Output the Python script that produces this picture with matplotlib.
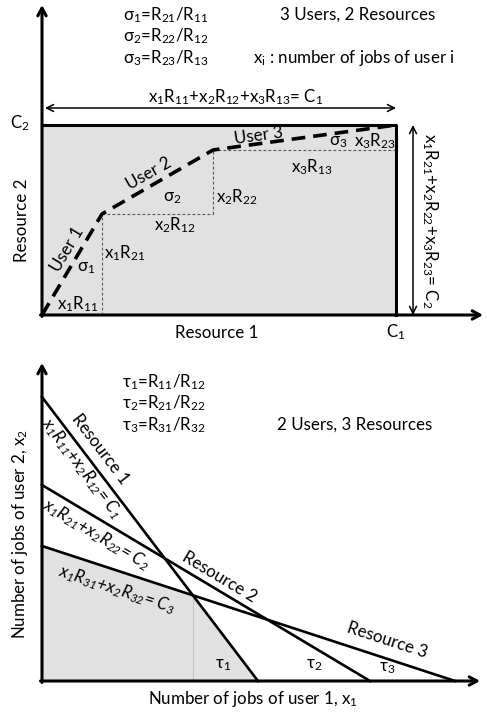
import matplotlib
matplotlib.use("Agg")
import matplotlib.pyplot as plt
import numpy as np

plt.rcParams['font.family'] = ['Lato', 'DejaVu Sans']
plt.rcParams['mathtext.fontset'] = 'custom'
plt.rcParams['mathtext.rm'] = 'Lato'
plt.rcParams['mathtext.it'] = 'Lato:italic'
plt.rcParams['mathtext.bf'] = 'Lato:bold'
plt.rcParams['mathtext.default'] = 'regular'

# ---------------- data: top panel (3 users, 2 resources) ----------------
users_top = ["User 1", "User 2", "User 3"]
res1_use = [60, 111, 183]   # x_i R_1i  (resource 1 consumption per user)
res2_use = [101, 64, 25]    # x_i R_2i  (resource 2 consumption per user)
res1_labels = [r"x$_1$R$_{11}$", r"x$_2$R$_{12}$", r"x$_3$R$_{13}$"]
res2_labels = [r"x$_1$R$_{21}$", r"x$_2$R$_{22}$", r"x$_3$R$_{23}$"]
sigma_labels = [r"σ$_1$", r"σ$_2$", r"σ$_3$"]
sigma_defs = [r"σ$_1$=R$_{21}$/R$_{11}$", r"σ$_2$=R$_{22}$/R$_{12}$", r"σ$_3$=R$_{23}$/R$_{13}$"]

# ---------------- data: bottom panel (2 users, 3 resources) -------------
resources_bot = ["Resource 1", "Resource 2", "Resource 3"]
x1_intercepts = [216, 328, 413]   # C_k / R_k1
x2_intercepts = [284, 196, 135]   # C_k / R_k2
constraint_labels = [r"x$_1$R$_{11}$+x$_2$R$_{12}$= C$_1$",
                     r"x$_1$R$_{21}$+x$_2$R$_{22}$= C$_2$",
                     r"x$_1$R$_{31}$+x$_2$R$_{32}$= C$_3$"]
tau_labels = [r"τ$_1$", r"τ$_2$", r"τ$_3$"]
tau_defs = [r"τ$_1$=R$_{11}$/R$_{12}$", r"τ$_2$=R$_{21}$/R$_{22}$", r"τ$_3$=R$_{31}$/R$_{32}$"]

W, H = 487, 712
fig = plt.figure(figsize=(W / 100, H / 100), dpi=100)
FS = 12.2
GRAY = "#e1e1e1"
AX_ARROW = dict(arrowstyle="->,head_length=0.55,head_width=0.3", lw=2.2, color="black",
                shrinkA=0, shrinkB=0)
DBL_ARROW = dict(arrowstyle="<->,head_length=0.5,head_width=0.25", lw=1.1, color="black",
                 shrinkA=0, shrinkB=0)

# ======================= TOP PANEL =======================
ax1 = fig.add_axes([0, 0, 1, 1])
ax1.set_xlim(-42, W - 42)
ax1.set_ylim(-(H - 315), 315)
ax1.axis("off")
ax1.patch.set_alpha(0)

C1 = sum(res1_use)
C2 = sum(res2_use)
cx = np.concatenate([[0], np.cumsum(res1_use)])
cy = np.concatenate([[0], np.cumsum(res2_use)])

ax1.fill([0, C1, C1, 0], [0, 0, C2, C2], color=GRAY, zorder=1)
ax1.plot([0, C1, C1], [C2, C2, 0], color="black", lw=2.2, zorder=3, solid_capstyle="projecting")

# staircase dotted guides
guide = dict(color="#555555", lw=0.8, ls=(0, (2.5, 2)), zorder=2)
ax1.plot([cx[1], cx[1]], [0, cy[1]], **guide)
ax1.plot([cx[1], cx[2]], [cy[1], cy[1]], **guide)
ax1.plot([cx[2], cx[2]], [cy[1], cy[2]], **guide)
ax1.plot([cx[2], cx[3]], [cy[2], cy[2]], **guide)

# dashed path
ax1.plot(cx, cy, color="black", lw=2.6, dashes=(3.8, 2.2), zorder=4)

# axes arrows
ax1.annotate("", xy=(0, 310), xytext=(0, -1.5), arrowprops=AX_ARROW, zorder=5)
ax1.annotate("", xy=(441, 0), xytext=(-1.5, 0), arrowprops=AX_ARROW, zorder=5)
# double arrows
ax1.annotate("", xy=(C1, 207), xytext=(3, 207), arrowprops=DBL_ARROW)
ax1.annotate("", xy=(371, C2), xytext=(371, 0), arrowprops=DBL_ARROW)

ax1.text(194, 218, r"x$_1$R$_{11}$+x$_2$R$_{12}$+x$_3$R$_{13}$= C$_1$", fontsize=FS, ha="center", va="center")
ax1.text(388, 94, r"x$_1$R$_{21}$+x$_2$R$_{22}$+x$_3$R$_{23}$= C$_2$", fontsize=FS, ha="center",
         va="center", rotation=-90)

for i, s in enumerate(sigma_defs):
    ax1.text(81, 300 - 21.5 * i, s, fontsize=FS, ha="left", va="center")
ax1.text(316, 300, "3 Users, 2 Resources", fontsize=FS, ha="center", va="center")
ax1.text(211, 257, r"x$_i$ : number of jobs of user i", fontsize=FS, ha="left", va="center")

ax1.text(-22, C2 + 2, r"C$_2$", fontsize=FS, ha="center", va="center")
ax1.text(C1, -17, r"C$_1$", fontsize=FS, ha="center", va="center")
ax1.text(175, -18, "Resource 1", fontsize=FS, ha="center", va="center")
ax1.text(-20, 95, "Resource 2", fontsize=FS, ha="center", va="center", rotation=90)

# path annotations
ax1.text(36, 11, res1_labels[0], fontsize=FS, ha="center", va="center")
ax1.text(83, 62, res2_labels[0], fontsize=FS, ha="center", va="center")
ax1.text(44, 47, sigma_labels[0], fontsize=FS, ha="center", va="center")
ax1.text(25, 66, users_top[0], fontsize=FS, ha="center", va="center", rotation=59)

ax1.text(133, 90, res1_labels[1], fontsize=FS, ha="center", va="center")
ax1.text(195, 118, res2_labels[1], fontsize=FS, ha="center", va="center")
ax1.text(130, 117, sigma_labels[1], fontsize=FS, ha="center", va="center")
ax1.text(107, 141, users_top[1], fontsize=FS, ha="center", va="center", rotation=29.5)

ax1.text(270, 148, res1_labels[2], fontsize=FS, ha="center", va="center")
ax1.text(333, 174, res2_labels[2], fontsize=FS, ha="center", va="center")
ax1.text(296, 173, sigma_labels[2], fontsize=FS, ha="center", va="center")
ax1.text(217, 179, users_top[2], fontsize=FS, ha="center", va="center", rotation=7.8)

# ======================= BOTTOM PANEL =======================
ax2 = fig.add_axes([0, 0, 1, 1])
ax2.set_xlim(-42, W - 42)
ax2.set_ylim(-(H - 681), 681)
ax2.axis("off")
ax2.patch.set_alpha(0)

a = np.array(x1_intercepts, float)
b = np.array(x2_intercepts, float)
# intersection of resource 1 and resource 3 constraints
A = np.array([[1 / a[0], 1 / b[0]], [1 / a[2], 1 / b[2]]])
xi, yi = np.linalg.solve(A, [1, 1])

ax2.fill([0, 0, xi, a[0]], [0, b[2], yi, 0], color=GRAY, zorder=1)
ax2.plot([xi, xi], [0, yi], color="#c8c8c8", lw=0.9, zorder=2)

for k in range(3):
    ax2.plot([0, a[k]], [b[k], 0], color="black", lw=1.9, zorder=3)

ax2.annotate("", xy=(0, 318), xytext=(0, -1.5), arrowprops=AX_ARROW, zorder=5)
ax2.annotate("", xy=(438, 0), xytext=(-1.5, 0), arrowprops=AX_ARROW, zorder=5)

for i, s in enumerate(tau_defs):
    ax2.text(80, 299 - 21.5 * i, s, fontsize=FS, ha="left", va="center")
ax2.text(313, 256, "2 Users, 3 Resources", fontsize=FS, ha="center", va="center")

ang = [np.degrees(np.arctan2(-b[k], a[k])) for k in range(3)]
ax2.text(58, 232, resources_bot[0], fontsize=FS, ha="center", va="center", rotation=ang[0])
ax2.text(177, 104, resources_bot[1], fontsize=FS, ha="center", va="center", rotation=ang[1])
ax2.text(345, 41, resources_bot[2], fontsize=FS, ha="center", va="center", rotation=ang[2])

ax2.text(40, 213, constraint_labels[0], fontsize=FS, ha="center", va="center", rotation=ang[0],
         style="italic")
ax2.text(54, 146, constraint_labels[1], fontsize=FS, ha="center", va="center", rotation=ang[1],
         style="italic")
ax2.text(75, 91, constraint_labels[2], fontsize=FS, ha="center", va="center", rotation=ang[2],
         style="italic")

ax2.text(181, 16, tau_labels[0], fontsize=FS, ha="center", va="center")
ax2.text(272, 16, tau_labels[1], fontsize=FS, ha="center", va="center")
ax2.text(345, 13, tau_labels[2], fontsize=FS, ha="center", va="center")

ax2.text(211, -18, r"Number of jobs of user 1, x$_1$", fontsize=FS, ha="center", va="center")
ax2.text(-22, 147, r"Number of jobs of user 2, x$_2$", fontsize=FS, ha="center", va="center", rotation=90)

fig.savefig("out.png", dpi=100)
